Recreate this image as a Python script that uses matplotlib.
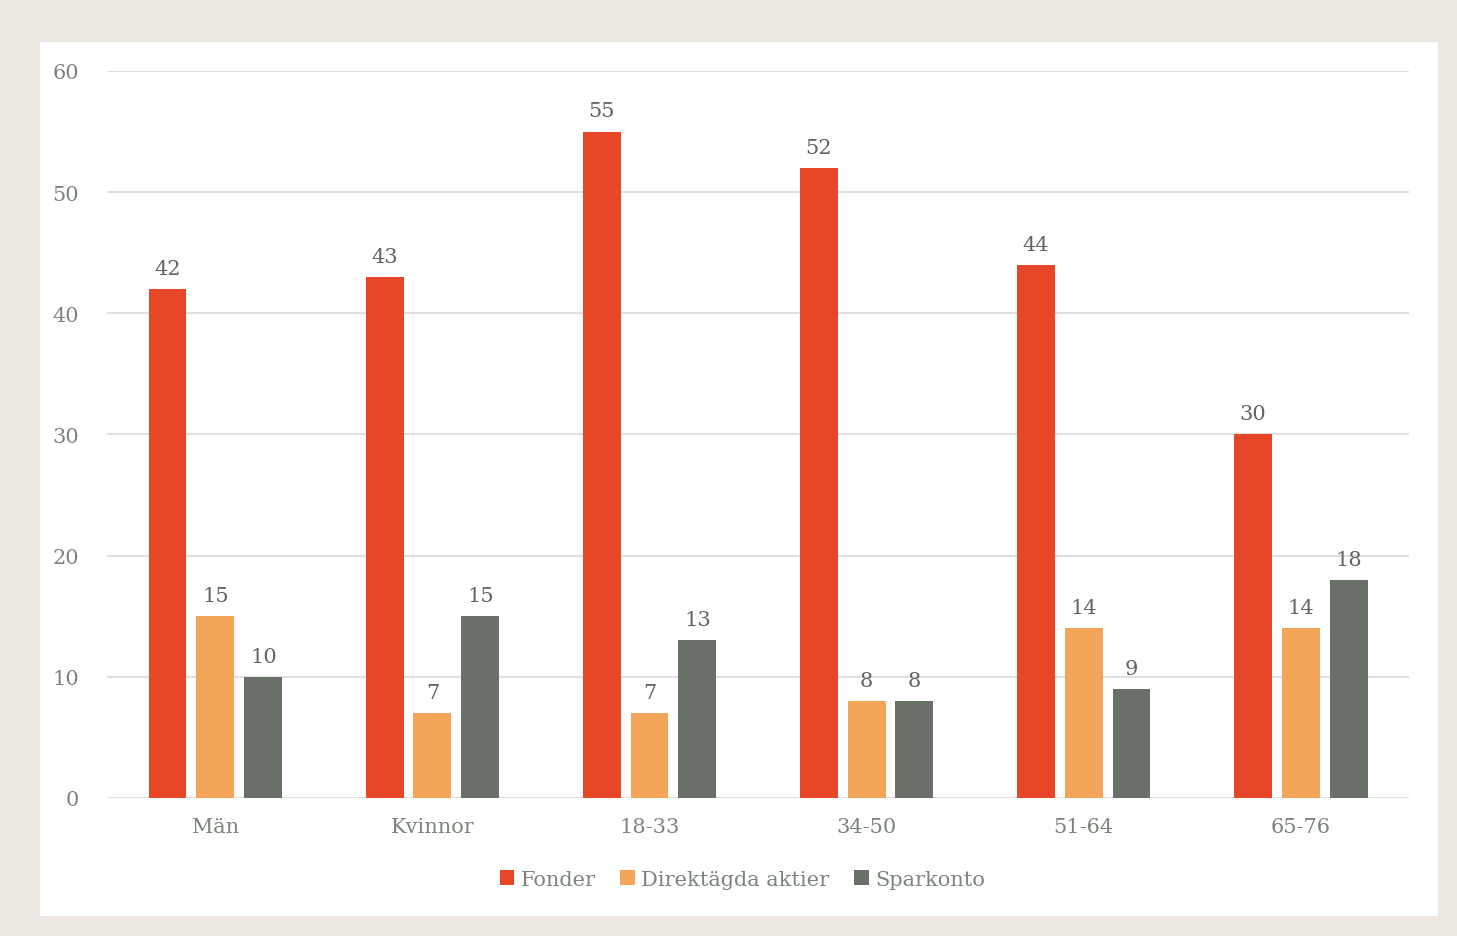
import matplotlib.pyplot as plt
import numpy as np

# data
categories = ["Män", "Kvinnor", "18-33", "34-50", "51-64", "65-76"]
fonder = [42, 43, 55, 52, 44, 30]
direktagda = [15, 7, 7, 8, 14, 14]
sparkonto = [10, 15, 13, 8, 9, 18]
series_names = ["Fonder", "Direktägda aktier", "Sparkonto"]
yticks = [0, 10, 20, 30, 40, 50, 60]

colors = ["#E84628", "#F5A55A", "#687067"]
text_color = "#7B857B"
plt.rcParams['font.family'] = ['DejaVu Serif']

fig = plt.figure(figsize=(14.57, 9.37), dpi=100)
fig.patch.set_facecolor("#EDE9E2")

# white panel behind the chart
panel = fig.add_axes([0.0275, 0.0213, 0.9595, 0.9328], zorder=-1)
panel.set_facecolor("white")
panel.set_xticks([])
panel.set_yticks([])
for s in panel.spines.values():
    s.set_visible(False)

ax = fig.add_axes([0.0734, 0.1473, 0.8937, 0.7759])
ax.set_facecolor("none")

x = np.arange(len(categories))
width = 0.175
step = 0.221
for i, (vals, name) in enumerate(zip([fonder, direktagda, sparkonto], series_names)):
    bars = ax.bar(x + (i - 1) * step, vals, width, color=colors[i], label=name, zorder=3)
    for b, v in zip(bars, vals):
        ax.annotate(str(v), (b.get_x() + b.get_width() / 2, v), xytext=(0, 8),
                    textcoords="offset points", ha="center", va="bottom",
                    fontsize=15, color="#5f665e")

ax.set_xlim(-0.5, len(categories) - 0.5)
ax.set_ylim(0, 60)
ax.set_yticks(yticks)
ax.set_xticks(x)
ax.set_xticklabels(categories)
ax.grid(axis="y", color="#E0E0E0", linewidth=1.5, zorder=0)
ax.tick_params(length=0, labelsize=15, labelcolor=text_color)
ax.tick_params(axis="x", pad=14)
ax.tick_params(axis="y", pad=20)
for s in ax.spines.values():
    s.set_visible(False)

leg = ax.legend(loc="upper center", bbox_to_anchor=(0.488, -0.073), ncol=3, frameon=False,
                fontsize=15, handlelength=0.7, handleheight=0.7, handletextpad=0.3,
                columnspacing=1.2)
for t in leg.get_texts():
    t.set_color(text_color)

fig.savefig("out.png", dpi=100, facecolor=fig.get_facecolor())
